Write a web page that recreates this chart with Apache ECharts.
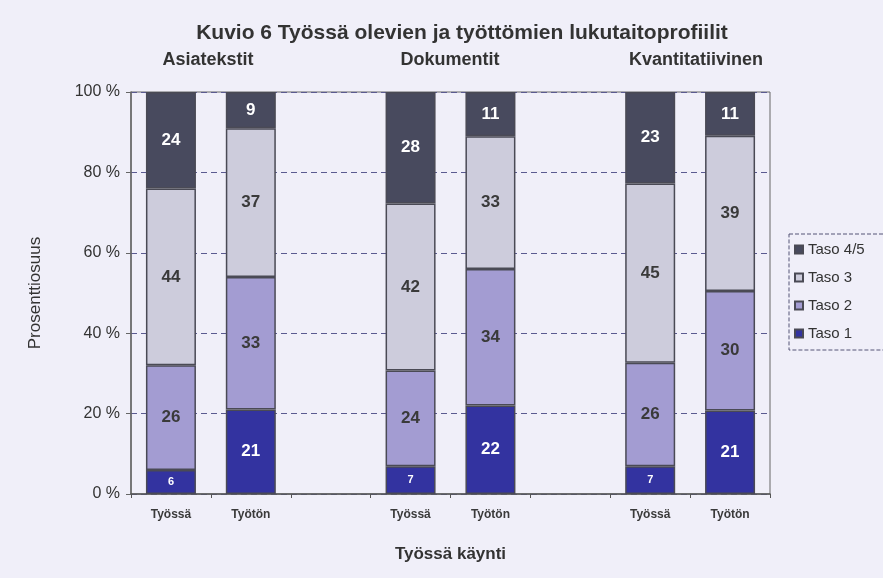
<!DOCTYPE html>
<html>
<head>
<meta charset="utf-8">
<script src="https://cdn.jsdelivr.net/npm/echarts@6/dist/echarts.min.js"></script>
<style>
    html, body { margin: 0; padding: 0; background: #f0eff9; }
    #chart { width: 883px; height: 578px; }
</style>
</head>
<body>
<div id="chart"></div>
<script>
// luokat (tyhjä väli ryhmien välissä)
var categories = ['Työssä', 'Työtön', '', 'Työssä', 'Työtön', '', 'Työssä', 'Työtön'];
var groups = ['Asiatekstit', 'Dokumentit', 'Kvantitatiivinen'];
var yTicks = [0, 20, 40, 60, 80, 100];

var taso1 = [6, 21, null, 7, 22, null, 7, 21];
var taso2 = [26, 33, null, 24, 34, null, 26, 30];
var taso3 = [44, 37, null, 42, 33, null, 45, 39];
var taso45 = [24, 9, null, 28, 11, null, 23, 11];

var names = ['Taso 1', 'Taso 2', 'Taso 3', 'Taso 4/5'];
var colors = ['#3333a0', '#a39cd2', '#cdccdc', '#484a5e'];
var labelColors = ['#ffffff', '#3a3a3a', '#3a3a3a', '#ffffff'];
var raw = [taso1, taso2, taso3, taso45];

// 100 % pinottu: jokainen pylväs skaalataan summaansa
var totals = categories.map(function (c, i) {
    var s = 0;
    raw.forEach(function (arr) { s += arr[i] || 0; });
    return s;
});

var series = raw.map(function (arr, k) {
    return {
        name: names[k],
        type: 'bar',
        stack: 'total',
        barWidth: 50,
        itemStyle: { color: colors[k], borderColor: '#4a4a55', borderWidth: 1.5 },
        label: {
            show: true,
            position: 'inside',
            color: labelColors[k],
            fontFamily: 'Liberation Sans',
            fontWeight: 'bold',
            formatter: function (p) { return raw[k][p.dataIndex]; }
        },
        data: arr.map(function (v, i) {
            if (v === null) return null;
            var item = { value: v / totals[i] * 100 };
            item.label = { fontSize: v < 9 ? 11 : 17 };
            return item;
        })
    };
});

var subStyle = { fontSize: 18, fontWeight: 'bold', color: '#333', fontFamily: 'Liberation Sans' };

var chart = echarts.init(document.getElementById('chart'));
chart.setOption({
    backgroundColor: '#f0eff9',
    textStyle: { fontFamily: 'Liberation Sans' },
    title: [
        { text: 'Kuvio 6 Työssä olevien ja työttömien lukutaitoprofiilit', left: 457, top: 18, textAlign: 'center',
          textStyle: { fontSize: 21, fontWeight: 'bold', color: '#333', fontFamily: 'Liberation Sans' } },
        { text: groups[0], left: 203, top: 46, textAlign: 'center', textStyle: subStyle },
        { text: groups[1], left: 445, top: 46, textAlign: 'center', textStyle: subStyle },
        { text: groups[2], left: 691, top: 46, textAlign: 'center', textStyle: subStyle }
    ],
    legend: {
        orient: 'vertical',
        left: 789,
        top: 234,
        padding: [8, 20, 9, 5],
        itemWidth: 8,
        itemHeight: 8,
        itemGap: 13,
        icon: 'rect',
        borderColor: '#555577',
        borderWidth: 1,
        borderType: 'dashed',
        textStyle: { fontSize: 15, color: '#333', fontFamily: 'Liberation Sans' },
        data: ['Taso 4/5', 'Taso 3', 'Taso 2', 'Taso 1']
    },
    grid: {
        left: 131,
        right: 113,
        top: 92,
        bottom: 84,
        show: true,
        borderColor: '#666',
        borderWidth: 1,
        backgroundColor: 'transparent'
    },
    xAxis: {
        type: 'category',
        data: categories,
        name: 'Työssä käynti',
        nameLocation: 'middle',
        nameGap: 52,
        nameTextStyle: { fontSize: 17, color: '#333', fontWeight: 'bold' },
        axisLine: { lineStyle: { color: '#555', width: 1.5 } },
        axisTick: { show: true, length: 4, lineStyle: { color: '#555' } },
        axisLabel: { fontSize: 12, fontWeight: 'bold', color: '#3a3a3a', margin: 15 }
    },
    yAxis: {
        type: 'value',
        min: 0,
        max: 100,
        interval: 20,
        name: 'Prosenttiosuus',
        nameLocation: 'middle',
        nameGap: 87,
        nameTextStyle: { fontSize: 17, color: '#333' },
        axisLine: { show: true, lineStyle: { color: '#666', width: 1.5 } },
        axisTick: { show: true, length: 5, lineStyle: { color: '#666' } },
        axisLabel: {
            fontSize: 16, color: '#333', margin: 11,
            formatter: function (v) { return yTicks.indexOf(v) >= 0 ? v + ' %' : ''; }
        },
        splitLine: { lineStyle: { color: '#5a5a90', type: [6, 4], width: 1 } }
    },
    series: series
});
</script>
</body>
</html>
